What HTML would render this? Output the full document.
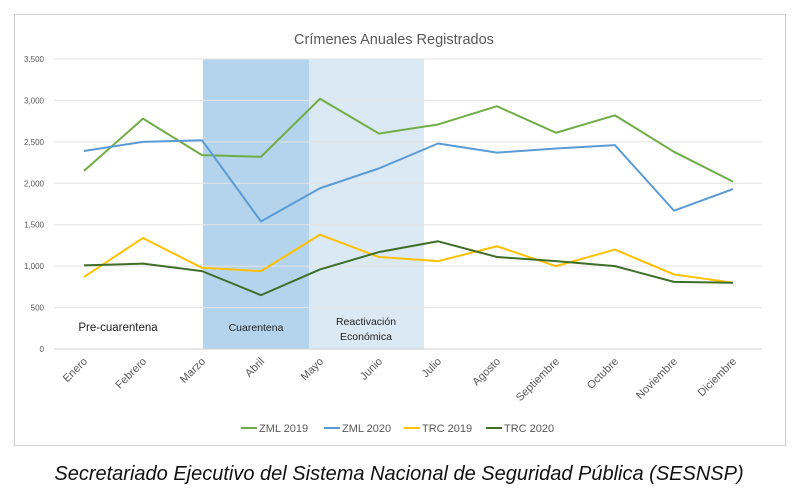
<!DOCTYPE html>
<html><head><meta charset="utf-8"><style>
body{margin:0;background:#fff;width:800px;height:494px;overflow:hidden;font-family:"Liberation Sans",sans-serif;}
</style></head><body>
<svg width="800" height="494" xmlns="http://www.w3.org/2000/svg">
<rect x="14.5" y="14.5" width="771" height="431" fill="#fff" stroke="#d0d0d0"/>
<text x="394" y="44" text-anchor="middle" font-size="14.5" fill="#595959">Crímenes Anuales Registrados</text>
<g id="shades"></g>
<g id="grid"></g>
<g id="series"></g>
<g id="xlabels"></g>
<g id="legend"></g>
<text x="399" y="480" text-anchor="middle" font-size="20" font-style="italic" fill="#111">Secretariado Ejecutivo del Sistema Nacional de Seguridad Pública (SESNSP)</text>
</svg>
<script>
const months=["Enero","Febrero","Marzo","Abril","Mayo","Junio","Julio","Agosto","Septiembre","Octubre","Noviembre","Diciembre"];
const yTicks=[0,500,1000,1500,2000,2500,3000,3500];
const zml2019=[2150,2780,2340,2320,3020,2600,2710,2930,2610,2820,2380,2020];
const zml2020=[2390,2500,2520,1540,1940,2180,2480,2370,2420,2460,1670,1930];
const trc2019=[870,1340,980,940,1380,1110,1060,1240,1000,1200,900,800];
const trc2020=[1010,1030,940,650,960,1170,1300,1110,1060,1000,810,800];
const NS="http://www.w3.org/2000/svg";
const x=i=>84+i*59;
const y=v=>349-v*(290/3500);
function mk(tag,attrs,parent){const e=document.createElementNS(NS,tag);for(const k in attrs)e.setAttribute(k,attrs[k]);document.getElementById(parent).appendChild(e);return e;}
let r=mk("rect",{x:203,y:y(3500),width:106,height:y(0)-y(3500),fill:"#b4d3ec"},"shades");


r=mk("rect",{x:309,y:y(3500),width:115,height:y(0)-y(3500),fill:"#dbe9f5"},"shades");


const bandLabels=[["Pre-cuarentena",118,331,11.5],["Cuarentena",256,331,10.5],["Reactivación",366,325,10.5],["Económica",366,340,10.5]];
bandLabels.forEach(b=>{const t=mk("text",{x:b[1],y:b[2],"text-anchor":"middle","font-size":b[3],fill:"#222"},"shades");t.textContent=b[0];

});
yTicks.forEach(v=>{const l=mk("line",{x1:54,x2:762,y1:y(v),y2:y(v),stroke:v===0?"#d0d0d0":"#e3e3e3","stroke-width":1},"grid");


const t=mk("text",{x:44,y:y(v)+3,"text-anchor":"end","font-size":8,fill:"#595959"},"grid");t.textContent=v.toLocaleString("en-US");

});
months.forEach((m,i)=>{const t=mk("text",{x:x(i)+4,y:362,"text-anchor":"end","font-size":11,fill:"#595959",transform:`rotate(-45 ${x(i)+4} 362)`},"xlabels");t.textContent=m;

});
const series=[["ZML 2019",zml2019,"#70ad47"],["ZML 2020",zml2020,"#5b9bd5"],["TRC 2019",trc2019,"#ffc000"],["TRC 2020",trc2020,"#3f6e2a"]];
series.forEach((s,k)=>{const p=mk("polyline",{points:s[1].map((v,i)=>x(i)+","+y(v)).join(" "),fill:"none",stroke:s[2],"stroke-width":2,"stroke-linejoin":"round"},"series");


const lx=[241,324,404,486][k];
const l=mk("line",{x1:lx,x2:lx+16,y1:428,y2:428,stroke:s[2],"stroke-width":2},"legend");


const t=mk("text",{x:lx+18,y:432,"font-size":11,fill:"#595959"},"legend");t.textContent=s[0];

});
</script>
</body></html>
